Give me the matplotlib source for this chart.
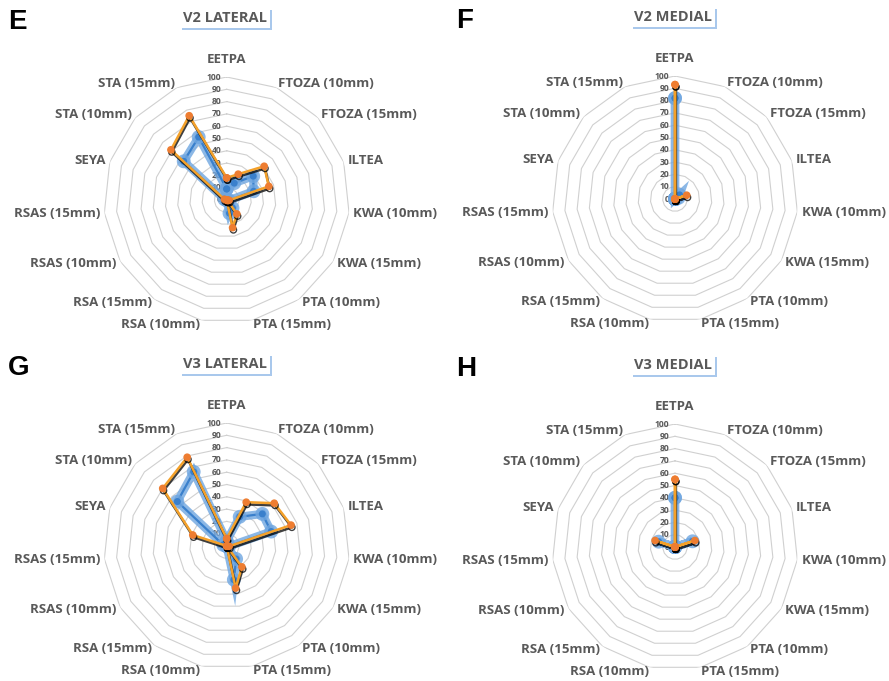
import numpy as np
import matplotlib.pyplot as plt
import matplotlib.patheffects as pe
from matplotlib.transforms import offset_copy

categories = ['EETPA', 'FTOZA (10mm)', 'FTOZA (15mm)', 'ILTEA', 'KWA (10mm)',
              'KWA (15mm)', 'PTA (10mm)', 'PTA (15mm)', 'RSA (10mm)', 'RSA (15mm)',
              'RSAS (10mm)', 'RSAS (15mm)', 'SEYA', 'STA (10mm)', 'STA (15mm)']
ticks = [0, 10, 20, 30, 40, 50, 60, 70, 80, 90, 100]

v2_lat_orange = [18, 23, 41, 36, 2, 1, 14, 23, 0, 0, 0, 0, 2, 61, 75]
v2_lat_blue = [9, 15, 29, 23, 2, 1, 8, 11, 0, 0, 0, 0, 2, 47, 56]
v2_med_orange = [93, 0, 0, 10, 0, 0, 0, 0, 0, 0, 0, 0, 0, 0, 0]
v2_med_blue = [82, 0, 5, 3, 0, 0, 0, 0, 0, 0, 0, 0, 0, 0, 0]
v3_lat_orange = [6, 39, 52, 55, 2, 0, 21, 35, 0, 0, 0, 0, 29, 70, 79]
v3_lat_blue = [4, 26, 39, 38, 2, 0, 13, 28, 0, 0, 0, 0, 3, 54, 66]
v3_med_orange = [55, 0, 0, 17, 0, 0, 0, 0, 0, 0, 0, 0, 17, 0, 0]
v3_med_blue = [40, 0, 0, 15, 0, 0, 0, 0, 0, 0, 0, 0, 14, 0, 0]

panels = [('E', 'V2 LATERAL', v2_lat_orange, v2_lat_blue, (226.7, 200)),
          ('F', 'V2 MEDIAL', v2_med_orange, v2_med_blue, (675, 199)),
          ('G', 'V3 LATERAL', v3_lat_orange, v3_lat_blue, (226.7, 546)),
          ('H', 'V3 MEDIAL', v3_med_orange, v3_med_blue, (675, 547))]

W, H = 889, 681
R = 123  # radius of the 100 ring in pixels
label_col = '#595959'
font = 'Open Sans'

fig = plt.figure(figsize=(W / 100, H / 100), dpi=100)

n = len(categories)
theta = np.arange(n) * 2 * np.pi / n
theta_c = np.append(theta, theta[0])

for letter, title, orange, blue, (cx, cy) in panels:
    ax = fig.add_axes([(cx - R) / W, (H - cy - R) / H, 2 * R / W, 2 * R / H],
                      projection='polar')
    ax.set_theta_zero_location('N')
    ax.set_theta_direction(-1)
    ax.set_ylim(0, 100)
    ax.grid(False)
    ax.spines['polar'].set_visible(False)
    ax.set_xticks([])
    ax.set_yticks([])
    ax.patch.set_alpha(0)

    # polygon grid
    for t in ticks[1:]:
        ax.plot(theta_c, [t] * (n + 1), color='#D0D0D0', lw=0.8, zorder=1)

    # radial tick labels
    tr = offset_copy(ax.transData, fig=fig, x=-4, y=0, units='points')
    for t in ticks:
        ax.text(0, t, str(t), transform=tr, ha='right', va='center',
                fontsize=6.2, color=label_col, fontfamily=font, fontweight='bold')

    # category labels
    for ang, name in zip(theta, categories):
        deg = np.degrees(ang)
        if deg < 1:
            ax.text(ang, 109, name, ha='center', va='bottom', fontsize=9.5,
                    color=label_col, fontfamily=font, fontweight='bold')
            continue
        ha = 'left' if deg < 180 else 'right'
        ax.text(ang, 103.5, name, ha=ha, va='center', fontsize=9.5,
                color=label_col, fontfamily=font, fontweight='bold')

    # blue series with glow
    ax.plot(theta_c, blue + blue[:1], color='#3A80CC', lw=1.6, marker='o', ms=4,
            zorder=3, solid_joinstyle='miter',
            path_effects=[pe.Stroke(linewidth=6, foreground='#6FA6E0', alpha=0.8),
                          pe.Normal()])
    # orange series with dark shadow
    ax.plot(theta_c, orange + orange[:1], color='#F4A12A', lw=1.8, marker='o', ms=4.5,
            mfc='#EE7D31', mec='#EE7D31', zorder=4, solid_joinstyle='miter',
            path_effects=[pe.SimpleLineShadow(offset=(0.6, -1.6), shadow_color='black',
                                              alpha=0.75),
                          pe.Normal()])

    # panel letter and title
    fig.text((cx - 219) / W, 1 - (cy - 178) / H, letter, ha='left', va='center',
             fontsize=20, fontweight='bold', fontfamily='Liberation Sans', color='black')
    txt = fig.text((cx - 2) / W, 1 - (cy - 182) / H, title, ha='center', va='center',
                   fontsize=10.5, fontweight='bold', fontfamily=font, color=label_col,
                   bbox=dict(boxstyle='square,pad=0.2', fc='white', ec='none'))
    txt.get_bbox_patch().set_path_effects(
        [pe.SimplePatchShadow(offset=(1.5, -1.5), shadow_rgbFace='#A9C8EC', alpha=1),
         pe.Normal()])

fig.savefig('out.png', dpi=100)
